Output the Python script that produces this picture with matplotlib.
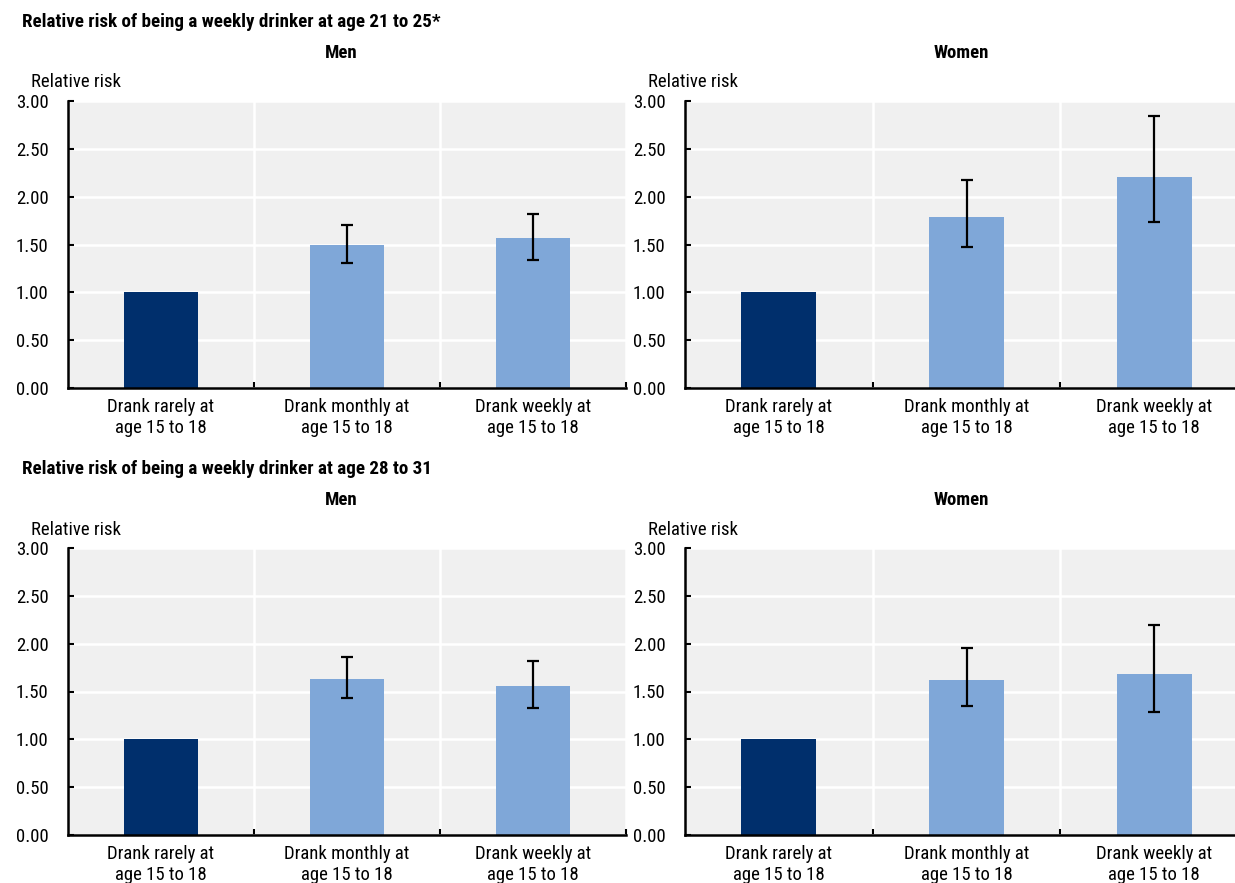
import numpy as np
import matplotlib
matplotlib.use("Agg")
from matplotlib import pyplot as plt
from matplotlib import font_manager as fm
from matplotlib.ticker import FormatStrFormatter

# narrow sans font if one is around (reference uses Arial Narrow look)
names = set(f.name for f in fm.fontManager.ttflist)
fam = [n for n in ["Liberation Sans Narrow", "Arial Narrow", "Roboto Condensed"] if n in names]
plt.rcParams['font.family'] = fam[:1] + ["Liberation Sans", "DejaVu Sans"]
if fam and fam[0] == "Roboto Condensed":
    plt.rcParams['font.stretch'] = 'condensed'

# data
categories = ["Drank rarely at\nage 15 to 18", "Drank monthly at\nage 15 to 18", "Drank weekly at\nage 15 to 18"]
titles = ["Relative risk of being a weekly drinker at age 21 to 25*",
          "Relative risk of being a weekly drinker at age 28 to 31"]
groups = ["Men", "Women"]

men_21_25 = [1.00, 1.49, 1.57]
men_21_25_lo = [1.00, 1.31, 1.34]
men_21_25_hi = [1.00, 1.70, 1.82]

women_21_25 = [1.00, 1.79, 2.21]
women_21_25_lo = [1.00, 1.47, 1.73]
women_21_25_hi = [1.00, 2.17, 2.84]

men_28_31 = [1.00, 1.63, 1.56]
men_28_31_lo = [1.00, 1.43, 1.33]
men_28_31_hi = [1.00, 1.86, 1.82]

women_28_31 = [1.00, 1.62, 1.68]
women_28_31_lo = [1.00, 1.35, 1.29]
women_28_31_hi = [1.00, 1.95, 2.20]

panels = [
    [(men_21_25, men_21_25_lo, men_21_25_hi), (women_21_25, women_21_25_lo, women_21_25_hi)],
    [(men_28_31, men_28_31_lo, men_28_31_hi), (women_28_31, women_28_31_lo, women_28_31_hi)],
]

dark = "#002f6c"
light = "#7fa7d8"
bg = "#f0f0f0"

W, H = 1235, 883
fig = plt.figure(figsize=(W / 100, H / 100), dpi=100)

# axes boxes in pixels: left, top, right, bottom
lefts = [(68, 626), (685, 1248)]
rows = [(101, 388), (548, 835)]
title_y = [22, 469]
sub_y = [53, 500]
sub_x = [341, 961]
lab_y = [82, 530]
lab_x = [31, 648]

for r in range(2):
    fig.text(22 / W, 1 - title_y[r] / H, titles[r], fontsize=13.7, fontweight='bold',
             ha='left', va='center')
    top, bot = rows[r]
    for c in range(2):
        l, rr = lefts[c]
        ax = fig.add_axes([l / W, 1 - bot / H, (rr - l) / W, (bot - top) / H])
        vals, lo, hi = panels[r][c]
        x = np.arange(len(categories))
        cols = [dark] + [light] * (len(vals) - 1)
        ax.bar(x, vals, width=0.4, color=cols, zorder=2)
        err = [[vals[i] - lo[i] for i in x[1:]], [hi[i] - vals[i] for i in x[1:]]]
        ax.errorbar(x[1:], vals[1:], yerr=err, fmt='none', ecolor='black',
                    elinewidth=1.6, capsize=4.3, capthick=1.6, zorder=3)
        ax.set_xlim(-0.5, 2.5)
        ax.set_ylim(0, 3)
        ax.set_facecolor(bg)
        ax.set_yticks(np.arange(0, 3.01, 0.5))
        ax.yaxis.set_major_formatter(FormatStrFormatter('%.2f'))
        ax.set_xticks([0.5, 1.5, 2.5])
        ax.set_xticklabels([])
        ax.set_xticks(x, minor=True)
        ax.set_xticklabels(categories, minor=True, fontsize=13.5, linespacing=1.25)
        ax.tick_params(axis='x', which='minor', length=0, pad=7)
        ax.tick_params(axis='x', which='major', length=4, width=1.5, direction='in')
        ax.tick_params(axis='y', length=4, width=1.5, direction='in', labelsize=13.5, pad=14)
        ax.grid(True, which='major', color='white', linewidth=1.8, zorder=0)
        ax.set_axisbelow(True)
        for s in ['top', 'right']:
            ax.spines[s].set_visible(False)
        for s in ['left', 'bottom']:
            ax.spines[s].set_linewidth(1.8)
            ax.spines[s].set_zorder(4)
        fig.text(sub_x[c] / W, 1 - sub_y[r] / H, groups[c], fontsize=13.5, fontweight='bold',
                 ha='center', va='center')
        fig.text(lab_x[c] / W, 1 - lab_y[r] / H, "Relative risk", fontsize=13.5,
                 ha='left', va='center')

fig.savefig("out.png", dpi=100)
